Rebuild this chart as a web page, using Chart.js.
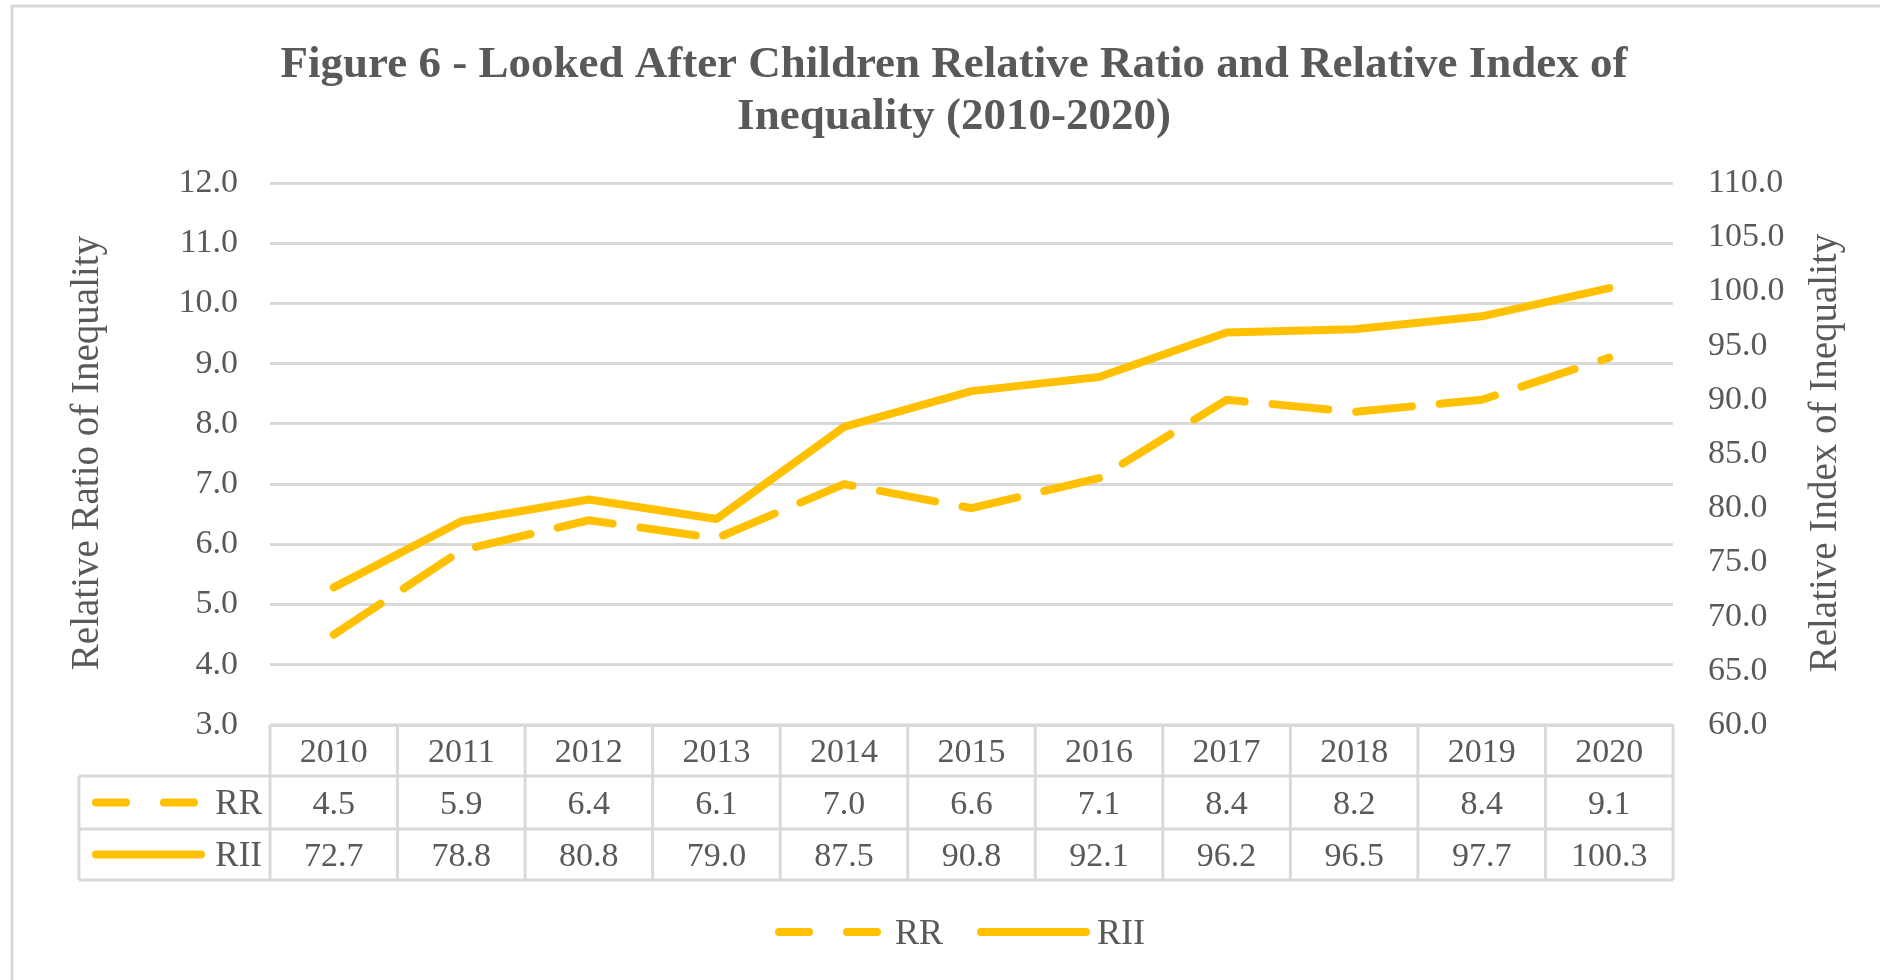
<!DOCTYPE html>
<html>
<head>
<meta charset="utf-8">
<script src="https://cdn.jsdelivr.net/npm/chart.js@4/dist/chart.umd.min.js"></script>
<style>
  html, body { margin: 0; padding: 0; background: #ffffff; }
  #wrap { width: 1880px; height: 980px; }
</style>
</head>
<body>
<div id="wrap"><canvas id="chart" width="1880" height="980"></canvas></div>
<script>
// ---- data ----
const years = ['2010', '2011', '2012', '2013', '2014', '2015', '2016', '2017', '2018', '2019', '2020'];
const rrValues = [4.5, 5.9, 6.4, 6.1, 7.0, 6.6, 7.1, 8.4, 8.2, 8.4, 9.1];
const riiValues = [72.7, 78.8, 80.8, 79.0, 87.5, 90.8, 92.1, 96.2, 96.5, 97.7, 100.3];
const seriesNames = ['RR', 'RII'];
const titleLines = ['Figure 6 - Looked After Children Relative Ratio and Relative Index of', 'Inequality (2010-2020)'];
const leftAxisTitle = 'Relative Ratio of Inequality';
const rightAxisTitle = 'Relative Index of Inequality';
const leftTicks = { min: 3, max: 12, step: 1 };
const rightTicks = { min: 60, max: 110, step: 5 };

// ---- styling ----
const SERIF = '"Liberation Serif", "Times New Roman", serif';
const TEXT = '#595959';
const RULE = '#d9d9d9';
const GOLD = '#FFC000';
const LINE_W = 8;
const DASH = [56, 28];

function centeredText(ctx, t, x, cy, size, align) {
  ctx.textAlign = align || 'center';
  ctx.textBaseline = 'alphabetic';
  ctx.fillText(t, x, cy + 0.34 * size);
}

function sample(ctx, x1, x2, y, dashed, dash) {
  ctx.save();
  ctx.strokeStyle = GOLD;
  ctx.lineWidth = LINE_W;
  ctx.lineCap = 'round';
  ctx.setLineDash(dashed ? dash : []);
  ctx.beginPath();
  ctx.moveTo(x1, y);
  ctx.lineTo(x2, y);
  ctx.stroke();
  ctx.restore();
}

// frame, title, axis titles, data table and legend
const decorations = {
  id: 'decorations',
  beforeDraw(chart) {
    const ctx = chart.ctx;
    ctx.save();
    ctx.fillStyle = '#ffffff';
    ctx.fillRect(0, 0, chart.width, chart.height);
    ctx.strokeStyle = RULE;
    ctx.lineWidth = 3;
    ctx.strokeRect(12, 6, chart.width, chart.height);
    ctx.restore();
  },
  afterDraw(chart) {
    const ctx = chart.ctx;
    const area = chart.chartArea;
    const xs = chart.scales.x;
    ctx.save();
    ctx.fillStyle = TEXT;

    // chart title
    ctx.font = `bold 45px ${SERIF}`;
    titleLines.forEach((t, i) => centeredText(ctx, t, 954, 62 + i * 52, 45));

    // axis titles, both reading bottom-to-top
    ctx.font = `39px ${SERIF}`;
    [[88, leftAxisTitle], [1826, rightAxisTitle]].forEach(([cx, t]) => {
      ctx.save();
      ctx.translate(cx, 453);
      ctx.rotate(-Math.PI / 2);
      ctx.textAlign = 'center';
      ctx.textBaseline = 'middle';
      ctx.fillText(t, 0, 0);
      ctx.restore();
    });

    // data table under the plot
    const colW = (area.right - area.left) / years.length;
    const keyLeft = 79;
    const rowY = [area.bottom, area.bottom + 51, area.bottom + 104, area.bottom + 155];
    ctx.strokeStyle = RULE;
    ctx.lineWidth = 3;
    ctx.beginPath();
    ctx.moveTo(area.left, rowY[0]); ctx.lineTo(area.right, rowY[0]);
    for (let r = 1; r < rowY.length; r++) {
      ctx.moveTo(keyLeft, rowY[r]); ctx.lineTo(area.right, rowY[r]);
    }
    ctx.moveTo(keyLeft, rowY[1]); ctx.lineTo(keyLeft, rowY[3]);
    for (let i = 0; i <= years.length; i++) {
      const gx = area.left + i * colW;
      ctx.moveTo(gx, rowY[0]); ctx.lineTo(gx, rowY[3]);
    }
    ctx.stroke();

    const mid = (r) => (rowY[r] + rowY[r + 1]) / 2;
    ctx.font = `34px ${SERIF}`;
    years.forEach((y, i) => {
      const cx = xs.getPixelForValue(i);
      centeredText(ctx, y, cx, mid(0), 34);
      centeredText(ctx, rrValues[i].toFixed(1), cx, mid(1), 34);
      centeredText(ctx, riiValues[i].toFixed(1), cx, mid(2), 34);
    });

    ctx.font = `35px ${SERIF}`;
    centeredText(ctx, seriesNames[0], 262, mid(1), 35, 'right');
    centeredText(ctx, seriesNames[1], 262, mid(2), 35, 'right');
    sample(ctx, 96, 194, mid(1), true, [30, 38]);
    sample(ctx, 96, 201, mid(2), false);

    // legend below the table
    const ly = 932;
    ctx.font = `36px ${SERIF}`;
    sample(ctx, 779, 878, ly, true, [30, 38]);
    centeredText(ctx, seriesNames[0], 895, ly, 36, 'left');
    sample(ctx, 981, 1086, ly, false);
    centeredText(ctx, seriesNames[1], 1097, ly, 36, 'left');

    ctx.restore();
  }
};

const ctxEl = document.getElementById('chart');
new Chart(ctxEl, {
  type: 'line',
  data: {
    labels: years,
    datasets: [
      {
        label: seriesNames[0],
        data: rrValues,
        yAxisID: 'y',
        borderColor: GOLD,
        borderWidth: LINE_W,
        borderDash: DASH,
        borderCapStyle: 'round',
        borderJoinStyle: 'round',
        pointRadius: 0,
        tension: 0,
        fill: false
      },
      {
        label: seriesNames[1],
        data: riiValues,
        yAxisID: 'y1',
        borderColor: GOLD,
        borderWidth: LINE_W,
        borderCapStyle: 'round',
        borderJoinStyle: 'round',
        pointRadius: 0,
        tension: 0,
        fill: false
      }
    ]
  },
  options: {
    responsive: false,
    animation: false,
    devicePixelRatio: 1,
    layout: { padding: { left: 20, right: 20, top: 183, bottom: 255 } },
    plugins: {
      legend: { display: false },
      title: { display: false },
      tooltip: { enabled: false }
    },
    scales: {
      x: {
        display: false,
        offset: true
      },
      y: {
        position: 'left',
        min: leftTicks.min,
        max: leftTicks.max,
        afterFit(scale) { scale.width = 250; },
        border: { display: false },
        grid: { color: RULE, lineWidth: 3, drawTicks: false },
        ticks: {
          stepSize: leftTicks.step,
          padding: 32,
          color: TEXT,
          font: { family: SERIF, size: 34 },
          callback: (v) => Number(v).toFixed(1)
        }
      },
      y1: {
        position: 'right',
        min: rightTicks.min,
        max: rightTicks.max,
        afterFit(scale) { scale.width = 187; },
        border: { display: false },
        grid: { display: false, drawTicks: false },
        ticks: {
          stepSize: rightTicks.step,
          padding: 35,
          color: TEXT,
          font: { family: SERIF, size: 34 },
          callback: (v) => Number(v).toFixed(1)
        }
      }
    }
  },
  plugins: [decorations]
});
</script>
</body>
</html>
